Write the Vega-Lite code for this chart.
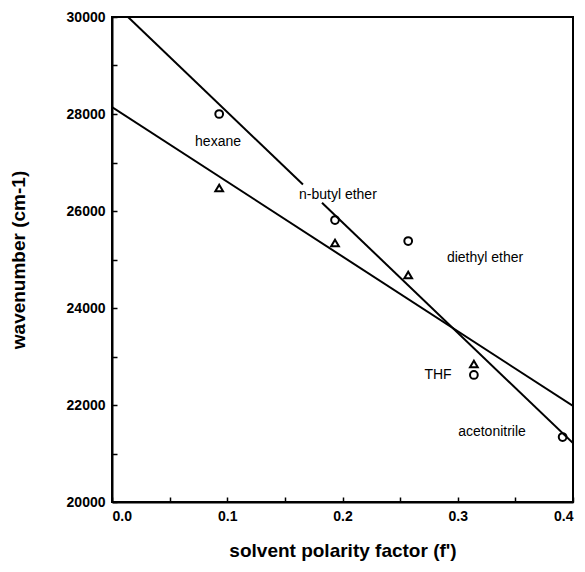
{
  "$schema": "https://vega.github.io/schema/vega-lite/v6.json",
  "width": 461,
  "height": 485,
  "autosize": "none",
  "padding": {"left": 112, "top": 17, "right": 12, "bottom": 70},
  "background": "white",
  "config": {
    "view": {"stroke": "black", "strokeWidth": 2},
    "font": "Liberation Sans",
    "axis": {
      "grid": false,
      "domainColor": "black",
      "domainWidth": 2,
      "tickColor": "black",
      "tickWidth": 1.5,
      "tickSize": -5,
      "labelFont": "Liberation Sans",
      "labelFontWeight": "bold",
      "labelFontSize": 14,
      "labelColor": "black",
      "titleFont": "Liberation Sans",
      "titleFontWeight": "bold",
      "titleFontSize": 19,
      "titleColor": "black"
    }
  },
  "datasets": {
    "points": [
      {"solvent": "hexane", "f": 0.093, "nu": 28000, "series": "circle"},
      {"solvent": "n-butyl ether", "f": 0.1935, "nu": 25814, "series": "circle"},
      {"solvent": "diethyl ether", "f": 0.257, "nu": 25381, "series": "circle"},
      {"solvent": "THF", "f": 0.314, "nu": 22619, "series": "circle"},
      {"solvent": "acetonitrile", "f": 0.391, "nu": 21340, "series": "circle"},
      {"solvent": "hexane", "f": 0.093, "nu": 26474, "series": "triangle"},
      {"solvent": "n-butyl ether", "f": 0.1935, "nu": 25340, "series": "triangle"},
      {"solvent": "diethyl ether", "f": 0.257, "nu": 24680, "series": "triangle"},
      {"solvent": "THF", "f": 0.314, "nu": 22845, "series": "triangle"}
    ],
    "lines": [
      {"seg": "steepA", "f": 0.0139, "nu": 30000},
      {"seg": "steepA", "f": 0.1657, "nu": 26545},
      {"seg": "steepB", "f": 0.1822, "nu": 26170},
      {"seg": "steepB", "f": 0.4, "nu": 21214},
      {"seg": "shallow", "f": 0.0, "nu": 28144},
      {"seg": "shallow", "f": 0.4, "nu": 21979}
    ],
    "labels": [
      {"text": "hexane", "f": 0.092, "nu": 27423},
      {"text": "n-butyl  ether", "f": 0.196, "nu": 26330},
      {"text": "diethyl  ether", "f": 0.3237, "nu": 25031},
      {"text": "THF", "f": 0.2829, "nu": 22619},
      {"text": "acetonitrile", "f": 0.3297, "nu": 21443}
    ]
  },
  "encoding": {
    "x": {
      "field": "f",
      "type": "quantitative",
      "scale": {"domain": [0, 0.4], "nice": false},
      "axis": {
        "title": "solvent polarity factor (f')",
        "values": [0, 0.05, 0.1, 0.15, 0.2, 0.25, 0.3, 0.35, 0.4],
        "format": ".1f",
        "labelExpr": "round(datum.value * 20) % 2 == 0 ? format(datum.value, '.1f') : ''",
        "labelPadding": 12,
        "titlePadding": 18
      }
    },
    "y": {
      "field": "nu",
      "type": "quantitative",
      "scale": {"domain": [20000, 30000], "nice": false},
      "axis": {
        "title": "wavenumber (cm-1)",
        "values": [20000, 21000, 22000, 23000, 24000, 25000, 26000, 27000, 28000, 29000, 30000],
        "format": "d",
        "labelExpr": "datum.value % 2000 == 0 ? format(datum.value, 'd') : ''",
        "labelPadding": 12,
        "titleX": -84
      }
    }
  },
  "layer": [
    {
      "data": {"name": "lines"},
      "mark": {"type": "line", "color": "black", "strokeWidth": 2, "clip": true},
      "encoding": {"detail": {"field": "seg"}}
    },
    {
      "data": {"name": "points"},
      "mark": {"type": "point", "filled": false, "color": "black", "opacity": 1, "strokeWidth": 2, "size": 60},
      "encoding": {
        "shape": {
          "field": "series",
          "type": "nominal",
          "scale": {"domain": ["circle", "triangle"], "range": ["circle", "triangle-up"]},
          "legend": null
        }
      }
    },
    {
      "data": {"name": "labels"},
      "mark": {"type": "text", "font": "Liberation Sans", "fontSize": 14, "color": "black", "align": "center", "baseline": "middle"},
      "encoding": {"text": {"field": "text"}}
    }
  ]
}
